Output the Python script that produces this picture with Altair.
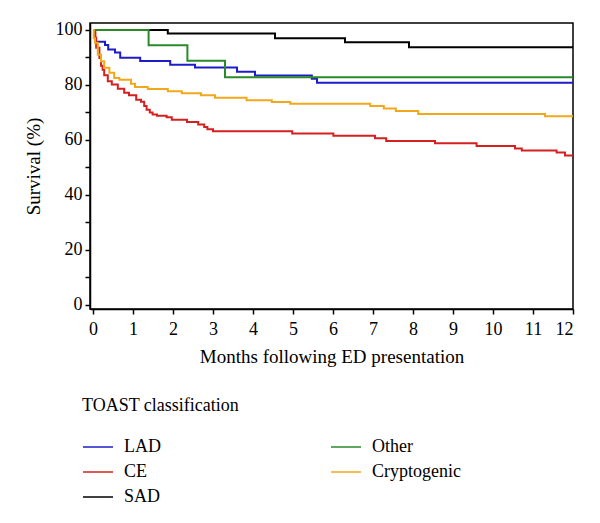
import altair as alt
import pandas as pd

# Kaplan-Meier step curves (months, survival %)
lad_t = [0, 0.05, 0.3, 0.38, 0.55, 0.68, 1.18, 1.93, 2.55, 3.6, 4.05, 5.47, 5.6, 12]
lad_s = [100, 95.7, 94.5, 92.9, 91.8, 89.9, 88.7, 87.3, 86.3, 84.8, 83.4, 82.2, 80.8, 80.8]

ce_t = [0, 0.03, 0.06, 0.08, 0.16, 0.2, 0.24, 0.28, 0.37, 0.47, 0.62, 0.78, 0.9, 1.08,
        1.2, 1.28, 1.34, 1.42, 1.49, 1.6, 1.84, 1.97, 2.35, 2.63, 2.78, 2.86, 3.0, 4.98,
        6.01, 7.05, 7.33, 8.55, 9.59, 10.55, 10.72, 11.59, 11.8, 12]
ce_s = [100, 99.4, 97.1, 93.5, 89.8, 87.0, 85.5, 83.5, 81.3, 80.1, 78.6, 77.1, 76.2, 74.6,
        73.9, 72.3, 71.0, 70.0, 69.2, 68.8, 68.2, 67.3, 66.5, 65.6, 64.7, 63.9, 63.1, 62.3,
        61.5, 60.6, 59.6, 58.8, 57.8, 56.9, 56.1, 55.4, 54.3, 54.3]

sad_t = [0, 1.87, 4.55, 6.3, 7.9, 12]
sad_s = [100, 98.7, 97.0, 95.5, 93.7, 93.7]

oth_t = [0, 1.39, 2.36, 3.3, 12]
oth_s = [100, 94.4, 88.8, 82.8, 82.8]

cry_t = [0, 0.02, 0.05, 0.12, 0.2, 0.28, 0.41, 0.53, 0.66, 0.95, 1.05, 1.37, 1.87, 2.22,
         2.7, 3.05, 3.84, 4.47, 4.93, 6.93, 7.27, 7.57, 8.13, 11.3, 12]
cry_s = [100, 97.0, 95.3, 91.0, 88.6, 86.2, 84.4, 82.5, 81.9, 80.4, 79.2, 78.5, 77.7, 77.0,
         76.2, 75.3, 74.4, 73.8, 73.1, 72.3, 71.4, 70.5, 69.4, 68.6, 68.6]

groups = ["LAD", "CE", "SAD", "Other", "Cryptogenic"]
series = [(lad_t, lad_s), (ce_t, ce_s), (sad_t, sad_s), (oth_t, oth_s), (cry_t, cry_s)]
colors = ["#1c1cc8", "#d42020", "#000000", "#2a8a2a", "#f2a81d"]

rows = []
for k, (name, (ts, ss)) in enumerate(zip(groups, series)):
    for t, s in zip(ts, ss):
        rows.append({"month": t, "survival": s, "group": name, "layer": k})
df = pd.DataFrame(rows)

FONT = "Liberation Serif"

chart = (
    alt.Chart(df)
    .mark_line(interpolate="step-after", strokeWidth=2, clip=True)
    .encode(
        x=alt.X(
            "month:Q",
            scale=alt.Scale(domain=[-0.075, 12], nice=False, zero=False),
            axis=alt.Axis(
                values=list(range(13)),
                title="Months following ED presentation",
                labelPadding=6,
                titlePadding=9,
                grid=False,
            ),
        ),
        y=alt.Y(
            "survival:Q",
            scale=alt.Scale(domain=[-1.5, 102.5], nice=False, zero=False),
            axis=alt.Axis(
                values=list(range(0, 101, 10)),
                labelExpr="datum.value % 20 == 0 ? datum.label : ''",
                title="Survival (%)",
                labelPadding=3,
                titlePadding=12,
                grid=False,
            ),
        ),
        color=alt.Color(
            "group:N",
            scale=alt.Scale(domain=groups, range=colors),
            legend=alt.Legend(
                title="TOAST classification",
                orient="none",
                legendX=-8,
                legendY=374,
                columns=2,
                columnPadding=167,
                rowPadding=-5,
                symbolType="stroke",
                symbolSize=900,
                symbolStrokeWidth=1.5,
                labelOffset=10,
                titlePadding=16,
                labelFont=FONT,
                titleFont=FONT,
                labelFontSize=18,
                titleFontSize=18,
                titleFontWeight="normal",
                labelColor="black",
                titleColor="black",
            ),
        ),
        detail="layer:N",
    )
    .properties(
        width=483,
        height=286,
        autosize=alt.AutoSizeParams(type="none"),
        padding={"left": 82, "top": 15, "right": 19, "bottom": 206},
    )
    .configure_view(stroke="black", strokeWidth=1.5)
    .configure_axis(
        labelFont=FONT,
        titleFont=FONT,
        labelFontSize=18,
        titleFontSize=19,
        titleFontWeight="normal",
        labelColor="black",
        titleColor="black",
        domainColor="black",
        tickColor="black",
        domainWidth=1.5,
        tickWidth=1.5,
        tickSize=5,
    )
)

chart.save("out.html", embed_options={"renderer": "svg", "actions": False})
